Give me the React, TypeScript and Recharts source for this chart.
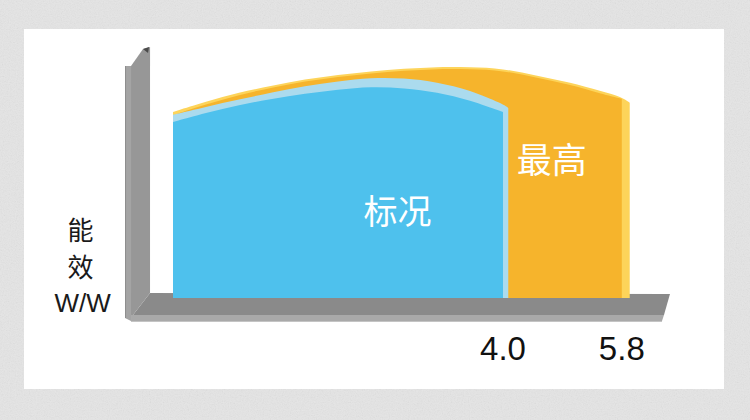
import React from 'react';
import {
  ComposedChart,
  Area,
  XAxis,
  YAxis,
  ReferenceArea,
  ReferenceDot,
} from 'recharts';

// ---- data ----
const X_VALUES = [-1, -0.5, 0, 0.5, 1, 1.5, 2, 2.5, 3, 3.5, 4.0, 4.08, 4.5, 5, 5.5, 5.8, 5.92];
// 标况 (standard) front face and its lighter rim
const STANDARD_FRONT = [4.4, 4.63, 4.83, 4.98, 5.11, 5.21, 5.29, 5.25, 5.15, 4.95, 4.65, null, null, null, null, null, null];
const STANDARD_EDGE = [4.58, 4.78, 4.96, 5.14, 5.3, 5.42, 5.51, 5.5, 5.4, 5.2, 4.85, 4.75, null, null, null, null, null];
// 最高 (maximum) front face and its lighter rim
const MAXIMUM_FRONT = [4.57, 4.84, 5.08, 5.26, 5.42, 5.53, 5.62, 5.68, 5.73, 5.72, 5.69, null, 5.51, 5.34, 5.1, 4.98, null];
const MAXIMUM_EDGE = [4.65, 4.91, 5.14, 5.31, 5.47, 5.58, 5.67, 5.73, 5.78, 5.77, 5.74, null, 5.56, 5.4, 5.16, 5.03, 4.88];

const TICK_VALUES = [4.0, 5.8];
const TICK_LABELS = ['4.0', '5.8'];
const AXIS_TITLE = ['能', '效', 'W/W'];
const SERIES_LABELS = ['标况', '最高'];

const data = X_VALUES.map((x, i) => ({
  x,
  stdFront: STANDARD_FRONT[i],
  stdEdge: STANDARD_EDGE[i],
  maxFront: MAXIMUM_FRONT[i],
  maxEdge: MAXIMUM_EDGE[i],
}));

const FONT = "'Liberation Sans', 'Noto Sans CJK SC', Arial, sans-serif";

const pts = (arr: number[][]) => arr.map((p) => p.join(',')).join(' ');

const VerticalBar = (p: any) => {
  const L = p.x;
  const R = p.x + p.width;
  const T = p.y;
  const B = p.y + p.height;
  return (
    <g>
      <polygon points={pts([[L, T + 19], [L + 6, T + 19], [L + 6, B - 1], [L, B - 4]])} fill="#a4a4a4" />
      <line x1={L + 0.5} y1={T + 19} x2={L + 0.5} y2={B - 4} stroke="#8e8e8e" strokeWidth={1} />
      <polygon
        points={pts([[L + 6, T + 19], [L + 18, T + 2], [R, T], [R, B - 29], [L + 8, B - 7], [L + 6, B - 7]])}
        fill="#979797"
      />
      <polygon points={pts([[L + 18, T + 2], [R - 1, T], [R - 2, T + 6]])} fill="#4a4a4a" />
    </g>
  );
};

const HorizontalBar = (p: any) => {
  const L = p.x;
  const R = p.x + p.width;
  const T = p.y;
  const B = p.y + p.height;
  return (
    <g>
      <polygon points={pts([[L + 25, T], [R, T + 1], [R - 6, B - 7], [L + 8, B - 7]])} fill="#8a8a8a" />
      <polygon points={pts([[L + 6, B - 7], [R - 6, B - 7], [R - 8, B - 1], [L + 6, B - 1]])} fill="#a9a9a9" />
      <line x1={L + 6} y1={B - 0.5} x2={R - 8} y2={B - 0.5} stroke="#c4c4c4" strokeWidth={1} />
    </g>
  );
};

const XTick = (props: any) => {
  const { x, y, payload } = props;
  const idx = TICK_VALUES.indexOf(payload.value);
  return (
    <text x={x} y={y} dy={22} textAnchor="middle" fontSize={33} fill="#111" fontFamily={FONT}>
      {idx >= 0 ? TICK_LABELS[idx] : ''}
    </text>
  );
};

const areaCommon = {
  type: 'basis' as const,
  baseValue: 0,
  stroke: 'none',
  fillOpacity: 1,
  connectNulls: true,
  dot: false,
  activeDot: false,
  isAnimationActive: false,
};

export default function App() {
  return (
    <div
      style={{
        position: 'absolute',
        left: 0,
        top: 0,
        width: 750,
        height: 420,
        background: '#e5e5e5',
        overflow: 'hidden',
      }}
    >
      <svg width={750} height={420} style={{ position: 'absolute', left: 0, top: 0 }}>
        <filter id="grain">
          <feTurbulence type="fractalNoise" baseFrequency="0.85" numOctaves={2} seed={3} />
          <feColorMatrix type="saturate" values="0" />
        </filter>
        <rect width={750} height={420} filter="url(#grain)" opacity={0.16} />
      </svg>
      <div
        style={{
          position: 'absolute',
          left: 24,
          top: 29,
          width: 700,
          height: 360,
          background: '#ffffff',
        }}
      />
      <div style={{ position: 'absolute', left: 0, top: 0 }}>
        <ComposedChart
          width={750}
          height={420}
          data={data}
          margin={{ top: 38, right: 49, bottom: 22, left: 74 }}
        >
          <XAxis
            type="number"
            dataKey="x"
            domain={[-2.5, 7]}
            allowDataOverflow
            ticks={TICK_VALUES}
            interval={0}
            axisLine={false}
            tickLine={false}
            tickSize={0}
            tickMargin={0}
            height={60}
            tick={<XTick />}
          />
          <YAxis type="number" domain={[-1, 6.5]} allowDataOverflow hide />

          <ReferenceArea
            x1={-1.727}
            x2={6.53}
            y1={-0.6}
            y2={0.125}
            shape={HorizontalBar}
            zIndex={-10}
          />
          <ReferenceArea
            x1={-1.727}
            x2={-1.348}
            y1={-0.6}
            y2={6.275}
            shape={VerticalBar}
            zIndex={-10}
          />

          <Area {...areaCommon} dataKey="maxEdge" fill="#fdd45a" />
          <Area {...areaCommon} dataKey="maxFront" fill="#f6b42c" />
          <Area {...areaCommon} dataKey="stdEdge" fill="#abdbee" />
          <Area {...areaCommon} dataKey="stdFront" fill="#4ec1ed" />

          <ReferenceDot
            x={2.4}
            y={2.15}
            r={1}
            fill="none"
            stroke="none"
            label={{ value: SERIES_LABELS[0], position: 'center', fill: '#ffffff', fontSize: 34, fontFamily: FONT }}
          />
          <ReferenceDot
            x={4.74}
            y={3.43}
            r={1}
            fill="none"
            stroke="none"
            label={{ value: SERIES_LABELS[1], position: 'center', fill: '#ffffff', fontSize: 35, fontFamily: FONT }}
          />
          <ReferenceDot
            x={-2.4}
            y={1.675}
            r={1}
            fill="none"
            stroke="none"
            label={{ value: AXIS_TITLE[0], position: 'center', fill: '#1a1a1a', fontSize: 26, fontFamily: FONT }}
          />
          <ReferenceDot
            x={-2.4}
            y={0.75}
            r={1}
            fill="none"
            stroke="none"
            label={{ value: AXIS_TITLE[1], position: 'center', fill: '#1a1a1a', fontSize: 26, fontFamily: FONT }}
          />
          <ReferenceDot
            x={-2.37}
            y={-0.125}
            r={1}
            fill="none"
            stroke="none"
            label={{ value: AXIS_TITLE[2], position: 'center', fill: '#1a1a1a', fontSize: 26, fontFamily: FONT }}
          />
        </ComposedChart>
      </div>
    </div>
  );
}
